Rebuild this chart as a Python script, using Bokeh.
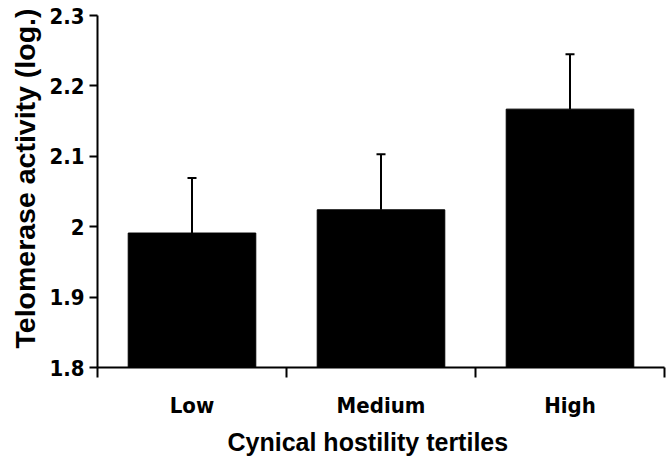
from bokeh.plotting import figure
from bokeh.models import (ColumnDataSource, Range1d, FixedTicker, Whisker, TeeHead, LinearAxis, Title)
from bokeh.embed import file_html
from bokeh.resources import INLINE

# ---- data ----
categories = ["Low", "Medium", "High"]
means = [1.991, 2.024, 2.167]
sem = [0.078, 0.079, 0.078]
y_ticks = [1.8, 1.9, 2.0, 2.1, 2.2, 2.3]
y_tick_labels = ["1.8", "1.9", "2", "2.1", "2.2", "2.3"]
x_title = "Cynical hostility tertiles"
y_title = "Telomerase activity (log.)"

pos = [i + 0.5 for i in range(len(categories))]
bounds = [float(i) for i in range(len(categories) + 1)]
upper = [m + e for m, e in zip(means, sem)]

src = ColumnDataSource(dict(x=pos, top=means, upper=upper, cat=categories))

NARROW = "'DejaVu Sans Condensed', sans-serif"
WIDE = "'Liberation Sans', Arial, Helvetica, sans-serif"

p = figure(width=666, height=465, output_backend="svg", toolbar_location=None,
           x_range=Range1d(0, len(categories)), y_range=Range1d(y_ticks[0], y_ticks[-1]),
           x_axis_type=None, y_axis_type=None,
           min_border_left=95, min_border_right=2, min_border_top=15, min_border_bottom=98)
p.outline_line_color = None
p.xgrid.visible = False
p.ygrid.visible = False
p.background_fill_color = "white"
p.border_fill_color = "white"

p.vbar(x="x", top="top", bottom=y_ticks[0], width=0.675, source=src,
       fill_color="black", line_color="black", line_width=1)

w = Whisker(source=src, base="x", lower="top", upper="upper",
            line_color="black", line_width=2,
            upper_head=TeeHead(size=9, line_color="black", line_width=2),
            lower_head=None)
p.add_layout(w)

# y axis
yax = LinearAxis(ticker=FixedTicker(ticks=y_ticks, minor_ticks=[]),
                 major_label_overrides={t: l for t, l in zip(y_ticks, y_tick_labels)})
yax.axis_line_width = 2
yax.major_tick_line_width = 2
yax.major_tick_out = 8
yax.major_tick_in = 0
yax.minor_tick_line_color = None
yax.minor_tick_out = 0
yax.major_label_text_font = NARROW
yax.major_label_text_font_style = "bold"
yax.major_label_text_font_size = "22px"
yax.major_label_text_color = "black"
yax.major_label_standoff = 5
p.add_layout(yax, "left")

# x axis: boundary ticks as minor ticks, category labels at centres
xax = LinearAxis(ticker=FixedTicker(ticks=pos, minor_ticks=bounds),
                 major_label_overrides={x: c for x, c in zip(pos, categories)})
xax.axis_line_width = 2
xax.major_tick_line_color = None
xax.major_tick_out = 0
xax.major_tick_in = 0
xax.minor_tick_line_width = 2
xax.minor_tick_out = 10
xax.minor_tick_in = 0
xax.minor_tick_line_color = "black"
xax.major_label_text_font = NARROW
xax.major_label_text_font_style = "bold"
xax.major_label_text_font_size = "22px"
xax.major_label_text_color = "black"
xax.major_label_standoff = 15
p.add_layout(xax, "below")

# axis titles
yt = Title(text=y_title, align="left", offset=19, standoff=12,
           text_font=WIDE, text_font_style="bold", text_font_size="28.5px",
           text_color="black")
p.add_layout(yt, "left")

xt = Title(text=x_title, align="left", offset=130, standoff=10,
           text_font=WIDE, text_font_style="bold", text_font_size="25px",
           text_color="black")
p.add_layout(xt, "below")

open("out.html", "w").write(file_html(p, INLINE))
